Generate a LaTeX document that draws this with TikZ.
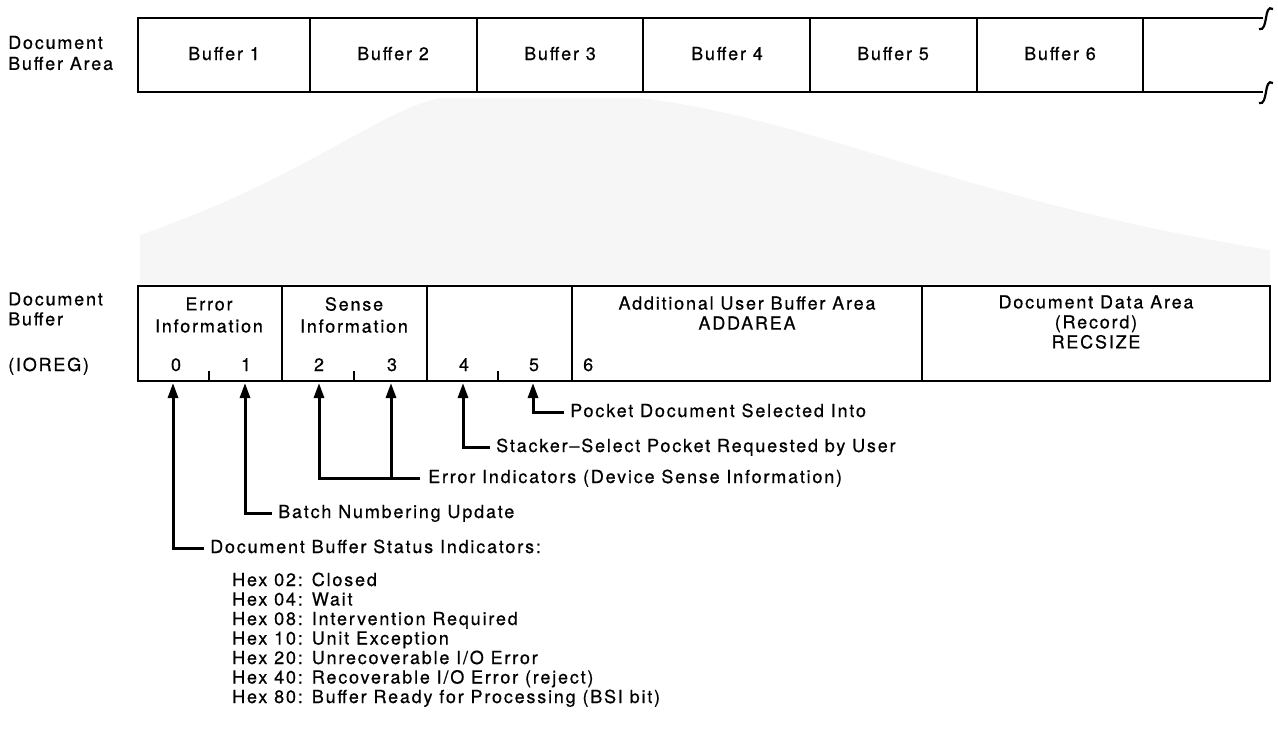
\documentclass[tikz,border=0pt]{standalone}
\usepackage{fontspec}
\setmainfont{TeX Gyre Heros}
\newfontfamily\ibmfont[LetterSpace=10,FakeBold=0.6]{TeX Gyre Heros}
\usetikzlibrary{arrows.meta,positioning}

\begin{document}
\begin{tikzpicture}[x=1pt, y=-1pt,
    txt/.style={font=\ibmfont\fontsize{18}{20}\selectfont, inner sep=0pt},
    oneline/.style={txt, text height=13pt, text depth=3pt},
    frame/.style={line width=2.8pt},
    sep/.style={line width=2.2pt},
    ptr/.style={line width=3pt, -{Triangle[length=15pt,width=10pt]}}]
\useasboundingbox (0,0) rectangle (1278,729);
% Halftone fan between the two buffers
\fill[gray!7] (140,284) -- (140,235) .. controls (300,180) and (380,110) .. (440,98)
  -- (640,98) .. controls (820,120) and (960,200) .. (1270,250) -- (1270,284) -- cycle;
% Document buffer area
\node[txt, anchor=west, align=left] (areaname) at (8,53) {Document\\[1pt]Buffer Area};
\draw[frame] (1263,18) -- (138,18) -- (138,92) -- (1263,92);
\foreach \x in {310,477,643,810,977,1143}
  \draw[sep] (\x,18) -- (\x,92);
\foreach \i/\x in {1/224,2/393,3/560,4/727,5/893,6/1060}
  \node[oneline] (buf\i) at (\x,55) {Buffer \i};
\foreach \y in {18,92}
  \draw[line width=2.2pt] (1259,\y+11) .. controls (1264,\y+13) and (1265,\y+5) .. (1266,\y)
    .. controls (1267,\y-6) and (1268,\y-12) .. (1273,\y-9);
% Document buffer (IOREG)
\node[txt, anchor=west, align=left] (bufname) at (8,309) {Document\\Buffer};
\node[oneline, anchor=west] (ioreg) at (8,366) {(IOREG)};
\draw[frame] (138,286) rectangle (1270,381);
\foreach \x in {282,427,572,922}
  \draw[sep] (\x,286) -- (\x,381);
\foreach \x in {209,354,498}
  \draw[sep] (\x,381) -- (\x,371);
\node[txt, align=center] (errinfo) at (209,315) {Error\\[2pt]Information};
\node[txt, align=center] (senseinfo) at (354,315) {Sense\\[2pt]Information};
\node[txt, align=center] (addarea) at (747,313) {Additional User Buffer Area\\ADDAREA};
\node[txt, align=center] (dataarea) at (1096,322) {Document Data Area\\(Record)\\RECSIZE};
\foreach \n/\x in {0/176,1/246,2/319,3/392,4/464,5/534}
  \node[oneline] (b\n) at (\x,366) {\n};
\node[oneline, anchor=west] (b6) at (583,366) {6};
% Pointers into the bytes
\foreach \n/\x in {0/173,1/245,2/319,3/391,4/463,5/533}
  \coordinate (p\n) at (\x,383);
\node[oneline, anchor=west] (pocket) at (570,412) {Pocket Document Selected Into};
\node[oneline, anchor=west] (stacker) at (496,447) {Stacker–Select Pocket Requested by User};
\node[oneline, anchor=west] (errind) at (428,478) {Error Indicators (Device Sense Information)};
\node[oneline, anchor=west] (batch) at (278,513) {Batch Numbering Update};
\node[oneline, anchor=west] (status) at (210,548) {Document Buffer Status Indicators:};
\draw[ptr] ([xshift=-6pt]pocket.west) -| (p5);
\draw[ptr] ([xshift=-6pt]stacker.west) -| (p4);
\draw[ptr] ([xshift=-8pt]errind.west) -| (p3);
\draw[ptr] (p3 |- errind.west) -| (p2);
\draw[ptr] ([xshift=-6pt]batch.west) -| (p1);
\draw[ptr] ([xshift=-6pt]status.west) -| (p0);
% Status codes
\foreach \t [count=\i from 0] in {Hex 02: Closed, Hex 04: Wait, Hex 08: Intervention Required,
    Hex 10: Unit Exception, Hex 20: Unrecoverable I/O Error,
    Hex 40: Recoverable I/O Error (reject), Hex 80: Buffer Ready for Processing (BSI bit)}
  \node[oneline, anchor=west] (hex\i) at (232,581+19.5*\i) {\t};
\end{tikzpicture}
\end{document}
